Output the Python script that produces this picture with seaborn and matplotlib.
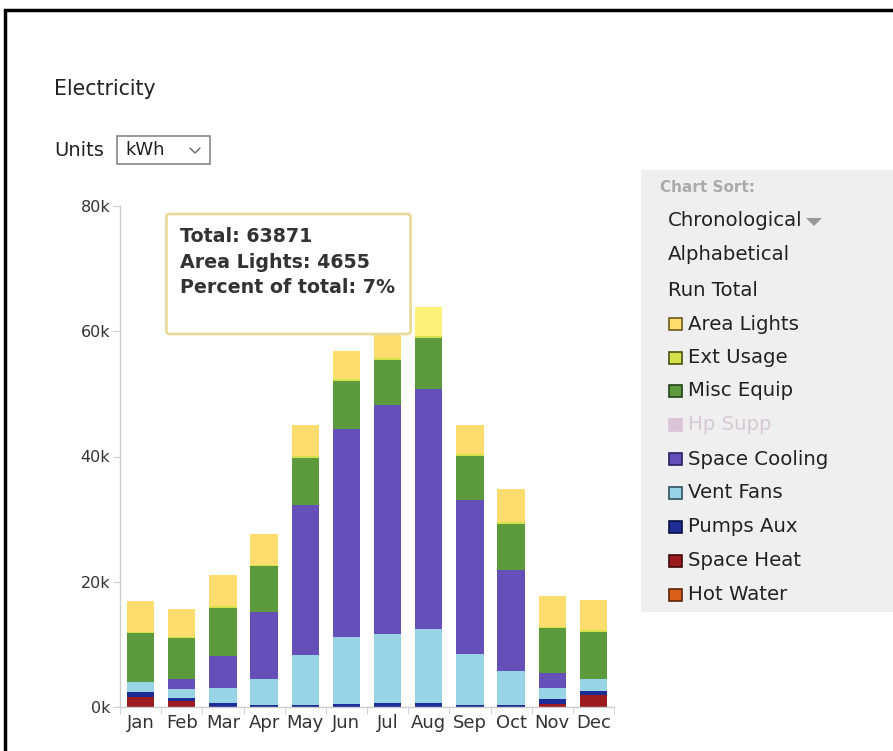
# --- IMPORTS ---
import numpy as np
import pandas as pd
import matplotlib.pyplot as plt
import seaborn as sns
from matplotlib.patches import Rectangle, FancyBboxPatch, Polygon
from matplotlib.lines import Line2D
from matplotlib.ticker import FuncFormatter

# --- DATA (kWh) ---
months = ["Jan", "Feb", "Mar", "Apr", "May", "Jun", "Jul", "Aug", "Sep", "Oct", "Nov", "Dec"]
hot_water = [0, 0, 0, 0, 0, 0, 0, 0, 0, 0, 0, 0]
space_heat = [1650, 900, 0, 0, 0, 0, 0, 0, 0, 0, 500, 1900]
pumps_aux = [700, 500, 600, 350, 350, 400, 600, 600, 350, 350, 700, 650]
vent_fans = [1700, 1500, 2400, 4100, 7900, 10700, 11000, 11900, 8100, 5450, 1800, 1900]
space_cooling = [0, 1500, 5200, 10650, 23950, 33300, 36600, 38200, 24550, 16000, 2400, 0]
hp_supp = [0, 0, 0, 0, 0, 0, 0, 0, 0, 0, 0, 0]
misc_equip = [7750, 6600, 7600, 7350, 7600, 7650, 7250, 8200, 7150, 7450, 7200, 7600]
ext_usage = [250, 250, 250, 250, 250, 250, 250, 316, 250, 250, 250, 250]
area_lights = [4800, 4350, 5100, 4900, 4950, 4550, 4750, 4655, 4600, 5300, 4800, 4800]

series_names = ["Hot Water", "Space Heat", "Pumps Aux", "Vent Fans", "Space Cooling",
                "Hp Supp", "Misc Equip", "Ext Usage", "Area Lights"]
series_vals = [hot_water, space_heat, pumps_aux, vent_fans, space_cooling,
               hp_supp, misc_equip, ext_usage, area_lights]
bar_colors = ["#D95F1A", "#9B1B1F", "#1E2C96", "#99D3E6", "#6450B8",
              "#DCC4D8", "#5C9A3D", "#D4E04C", "#FDDD6E"]
legend_edges = ["#5a2508", "#400a0a", "#0a1040", "#30505a", "#2a2060",
                "#DCC4D8", "#25401a", "#4a5210", "#6b5a20"]

data = pd.DataFrame(dict(zip(series_names, series_vals)), index=months)
cum = data.cumsum(axis=1)

# --- FIGURE ---
sns.set_style("white")
plt.rcParams['font.family'] = ['DejaVu Sans']

W, H = 893, 751
fig = plt.figure(figsize=(W / 100, H / 100), dpi=100)


def fx(px):
    return px / W


def fy(py):
    return 1 - py / H


# outer black frame
fig.add_artist(Rectangle((fx(5), fy(760)), fx(900) - fx(5), fy(9.5) - fy(760),
                         transform=fig.transFigure, fill=False, edgecolor="black", lw=2.5))

# chart axes
ax = fig.add_axes([fx(120), fy(707), fx(614) - fx(120), fy(206) - fy(707)])

# stacked bars: draw cumulative totals from the top layer down
for name, col in zip(series_names[::-1], bar_colors[::-1]):
    if data[name].sum() == 0:
        continue
    sns.barplot(x=months, y=cum[name].values, color=col, saturation=1,
                width=0.66, linewidth=0, errorbar=None, ax=ax)
    if name == "Area Lights":
        ax.patches[7].set_facecolor("#FFF27A")  # hovered bar

ax.set_xlim(-0.5, 11.5)
ax.set_ylim(0, 80000)
ax.set_yticks([0, 20000, 40000, 60000, 80000])
ax.yaxis.set_major_formatter(FuncFormatter(lambda v, p: f"{int(v / 1000)}k"))
ax.set_xticks(np.arange(-0.5, 12, 1), minor=True)
ax.tick_params(axis="x", which="major", length=0, pad=5, labelsize=13, labelcolor="#333333")
ax.tick_params(axis="x", which="minor", length=5, color="#CCCCCC", bottom=True)
ax.tick_params(axis="y", length=5, color="#CCCCCC", pad=2, labelsize=11.5, labelcolor="#333333", left=True)
ax.set_xlabel("")
ax.set_ylabel("")
sns.despine(ax=ax)
for s in ["left", "bottom"]:
    ax.spines[s].set_color("#CCCCCC")
    ax.spines[s].set_linewidth(1)

# --- HEADER ---
fig.text(fx(54), fy(89), "Electricity", fontsize=14.8, color="#222222", va="center")
fig.text(fx(54), fy(150), "Units", fontsize=14, color="#222222", va="center")
fig.add_artist(Rectangle((fx(117), fy(164)), fx(210) - fx(117), fy(136) - fy(164),
                         transform=fig.transFigure, fill=False, edgecolor="#888888", lw=1.2))
fig.text(fx(125), fy(150), "kWh", fontsize=13, color="#222222", va="center")
fig.add_artist(Line2D([fx(190), fx(195), fx(200)], [fy(148), fy(153), fy(148)],
                      transform=fig.transFigure, color="#666666", lw=1))

# --- SORT / LEGEND PANEL ---
fig.add_artist(Rectangle((fx(641), fy(612)), fx(900) - fx(641), fy(170) - fy(612),
                         transform=fig.transFigure, facecolor="#EFEFEF", edgecolor="none", zorder=0))
fig.text(fx(660), fy(187), "Chart Sort:", fontsize=11, fontweight="bold", color="#AAAAAA", va="center")
fig.text(fx(668), fy(221), "Chronological", fontsize=14.2, color="#222222", va="center")
fig.add_artist(Polygon([[fx(806), fy(218)], [fx(822), fy(218)], [fx(814), fy(226)]],
                       closed=True, transform=fig.transFigure, facecolor="#999999", edgecolor="none"))
fig.text(fx(668), fy(255), "Alphabetical", fontsize=14.2, color="#222222", va="center")
fig.text(fx(668), fy(290), "Run Total", fontsize=14.2, color="#222222", va="center")

legend_y = [324, 358, 391, 425, 459, 493, 527, 561, 595]
for i, (name, col, ec) in enumerate(zip(series_names[::-1], bar_colors[::-1], legend_edges[::-1])):
    yy = legend_y[i]
    fig.add_artist(Rectangle((fx(669), fy(yy + 6)), fx(682) - fx(669), fy(yy - 6) - fy(yy + 6),
                             transform=fig.transFigure, facecolor=col, edgecolor=ec, lw=1.2))
    tc = "#D8C8D6" if name == "Hp Supp" else "#222222"
    fig.text(fx(688), fy(yy), name, fontsize=14.2, color=tc, va="center")

# --- TOOLTIP ---
fig.add_artist(FancyBboxPatch((fx(170), fy(331)), fx(407) - fx(170), fy(217) - fy(331),
                              boxstyle="round,pad=0.004", transform=fig.transFigure,
                              facecolor="white", edgecolor="#E8DC9C", lw=2, zorder=5))
tip_lines = ["Total: %d" % data.loc["Aug"].sum(),
             "Area Lights: %d" % data.loc["Aug", "Area Lights"],
             "Percent of total: %d%%" % round(100 * data.loc["Aug", "Area Lights"] / data.loc["Aug"].sum())]
for k, t in enumerate(tip_lines):
    fig.text(fx(180), fy(237 + 25 * k), t, fontsize=13.7, fontweight="bold",
             color="#333333", va="center", zorder=6)

plt.savefig("out.png", dpi=100)
plt.close()
